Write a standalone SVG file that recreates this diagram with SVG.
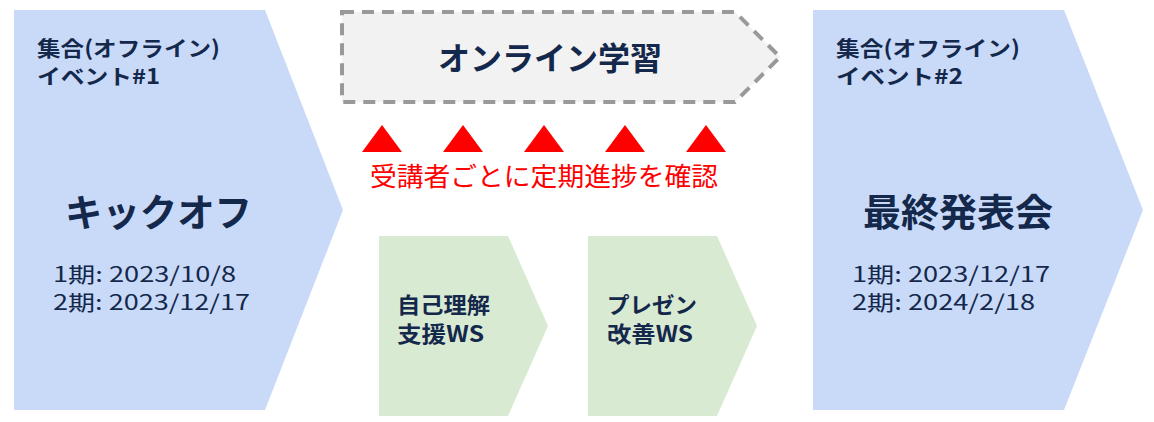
<svg xmlns="http://www.w3.org/2000/svg" width="1154" height="422" viewBox="0 0 1154 422">
<style>
text{font-family:"Noto Sans CJK JP","Noto Sans",sans-serif;fill:#14284b}
.b{font-weight:bold}
.blue{fill:#c9daf8}
.green{fill:#d9ead3}
.date{font-size:21px}
.hd{font-size:21px;font-weight:bold}
.big{font-size:38px;font-weight:bold}
.ws{font-size:22px;font-weight:bold}
.tri{fill:#ff0000}
</style>
<rect width="1154" height="422" fill="#ffffff"/>
<g id="event1">
<polygon class="blue" points="14,10 265,10 343,210 265,410 14,410"/>
<text class="hd" x="37" y="56" textLength="183" lengthAdjust="spacingAndGlyphs">集合(オフライン)</text>
<text class="hd" x="37" y="84" textLength="123" lengthAdjust="spacingAndGlyphs">イベント#1</text>
<text class="big" x="65" y="226" textLength="187" lengthAdjust="spacingAndGlyphs">キックオフ</text>
<text class="date" x="53" y="282" textLength="183" lengthAdjust="spacingAndGlyphs">1期: 2023/10/8</text>
<text class="date" x="53" y="310" textLength="197" lengthAdjust="spacingAndGlyphs">2期: 2023/12/17</text>
</g>
<g id="online">
<polygon points="342,12 735,12 780,57 735,102 342,102" fill="#f2f2f2" stroke="#999999" stroke-width="4" stroke-dasharray="12,8"/>
<text class="b" x="438" y="70" font-size="32" textLength="224" lengthAdjust="spacingAndGlyphs">オンライン学習</text>
</g>
<g id="checks">
<polygon class="tri" points="362,152 382,125 402,152"/>
<polygon class="tri" points="443,152 463,125 483,152"/>
<polygon class="tri" points="524,152 544,125 564,152"/>
<polygon class="tri" points="605,152 625,125 645,152"/>
<polygon class="tri" points="686,152 706,125 726,152"/>
<text x="370" y="186" font-size="26" textLength="348" lengthAdjust="spacingAndGlyphs" style="fill:#ff0000">受講者ごとに定期進捗を確認</text>
</g>
<g id="ws1">
<polygon class="green" points="379,236 508,236 548,326 508,416 379,416"/>
<text class="ws" x="397" y="313" textLength="93" lengthAdjust="spacingAndGlyphs">自己理解</text>
<text class="ws" x="397" y="342" textLength="87" lengthAdjust="spacingAndGlyphs">支援WS</text>
</g>
<g id="ws2">
<polygon class="green" points="588,236 717,236 757,326 717,416 588,416"/>
<text class="ws" x="607" y="313" textLength="90" lengthAdjust="spacingAndGlyphs">プレゼン</text>
<text class="ws" x="607" y="342" textLength="86" lengthAdjust="spacingAndGlyphs">改善WS</text>
</g>
<g id="event2">
<polygon class="blue" points="813,10 1064,10 1143,210 1064,410 813,410"/>
<text class="hd" x="836" y="56" textLength="184" lengthAdjust="spacingAndGlyphs">集合(オフライン)</text>
<text class="hd" x="836" y="84" textLength="127" lengthAdjust="spacingAndGlyphs">イベント#2</text>
<text class="big" x="863" y="226" textLength="190" lengthAdjust="spacingAndGlyphs">最終発表会</text>
<text class="date" x="852" y="282" textLength="198" lengthAdjust="spacingAndGlyphs">1期: 2023/12/17</text>
<text class="date" x="852" y="310" textLength="183" lengthAdjust="spacingAndGlyphs">2期: 2024/2/18</text>
</g>
<g id="connectors"></g>
</svg>
